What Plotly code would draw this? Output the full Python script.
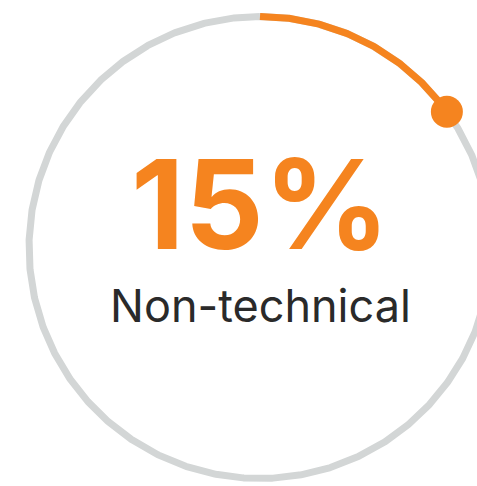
import numpy as np
import plotly.graph_objects as go

# Share of non-technical roles shown on a circular progress ring
share_label = "Non-technical"
share_value = [15]          # percent
full_scale = [100]

orange = "#f5841f"
grey = "#d3d6d6"

W, H = 477, 486
cx_px, cy_px, r_px = 260, 247.5, 231  # ring placement in the canvas

def ring_xy(theta_deg):
    t = np.radians(theta_deg)
    return np.sin(t), np.cos(t)   # clockwise from 12 o'clock, unit radius

frac = share_value[0] / full_scale[0]
arc_end = 360 * frac

bg_theta = np.linspace(0, 360, 1441)
fg_theta = np.linspace(0, arc_end, 300)
bx, by = ring_xy(bg_theta)
fx, fy = ring_xy(fg_theta)
dx, dy = ring_xy(np.array([arc_end]))

fig = go.Figure()
fig.add_trace(go.Scatter(x=bx, y=by, mode="lines",
                         line=dict(color=grey, width=7), hoverinfo="skip"))
fig.add_trace(go.Scatter(x=fx, y=fy, mode="lines",
                         line=dict(color=orange, width=7), hoverinfo="skip"))
fig.add_trace(go.Scatter(x=dx, y=dy, mode="markers",
                         marker=dict(color=orange, size=32), hoverinfo="skip"))

fig.add_annotation(x=0, y=0.19, xref="x", yref="y", text=f"{share_value[0]}%",
                   showarrow=False, xanchor="center", yanchor="middle",
                   font=dict(family="Inter, Roboto, sans-serif", size=124,
                             color=orange, weight=700))
fig.add_annotation(x=0, y=-0.25, xref="x", yref="y", text=share_label,
                   showarrow=False, xanchor="center", yanchor="middle",
                   font=dict(family="Inter, Roboto, sans-serif", size=45,
                             color="#2a2a2a"))

fig.update_xaxes(visible=False, range=[-cx_px / r_px, (W - cx_px) / r_px])
fig.update_yaxes(visible=False, range=[-(H - cy_px) / r_px, cy_px / r_px])
fig.update_layout(width=W, height=H, margin=dict(l=0, r=0, t=0, b=0),
                  showlegend=False, plot_bgcolor="white", paper_bgcolor="white")

fig.write_html("out.html")
